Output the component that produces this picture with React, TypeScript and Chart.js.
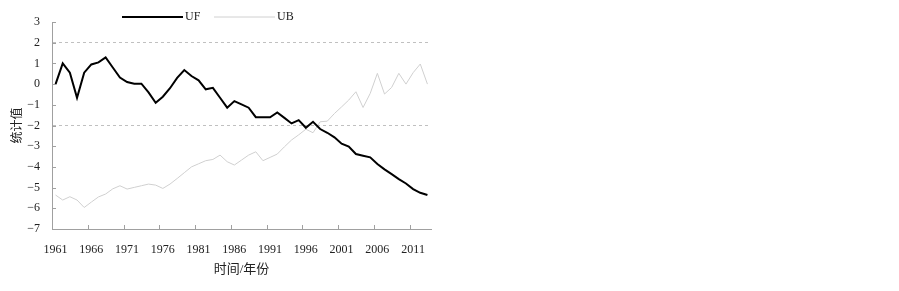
import React, { useEffect, useRef } from "react";
import { Chart, registerables } from "chart.js";

Chart.register(...registerables);

const years: string[] = [];
for (let y = 1961; y <= 2013; y++) years.push(String(y));

const ufValues = [
  0.0, 1.0, 0.55, -0.66, 0.55, 0.95, 1.05, 1.29, 0.8, 0.32,
  0.1, 0.02, 0.02, -0.4, -0.9, -0.61, -0.2, 0.3, 0.68, 0.39,
  0.18, -0.25, -0.18, -0.66, -1.14, -0.82, -0.98, -1.14, -1.6, -1.6,
  -1.6, -1.37, -1.63, -1.9, -1.74, -2.11, -1.82, -2.17, -2.35, -2.57,
  -2.88, -3.02, -3.38, -3.46, -3.54, -3.86, -4.12, -4.35, -4.59, -4.8,
  -5.07, -5.25, -5.36,
];

const ubValues = [
  -5.36, -5.6, -5.44, -5.6, -5.96, -5.7, -5.45, -5.31, -5.06, -4.91,
  -5.07, -4.99, -4.91, -4.83, -4.88, -5.04, -4.83, -4.56, -4.28, -4.0,
  -3.85, -3.7, -3.64, -3.43, -3.75, -3.91, -3.67, -3.43, -3.27, -3.7,
  -3.54, -3.38, -3.03, -2.7, -2.45, -2.18, -2.35, -1.82, -1.79, -1.42,
  -1.1, -0.77, -0.37, -1.13, -0.45, 0.52, -0.48, -0.16, 0.52, 0.0,
  0.55, 0.97, 0.0,
];

const seriesNames = ["UF", "UB"];
const seriesColors = ["#000000", "#d0d0d0"];
const seriesWidths = [2, 1];
const criticalValues = [2, -2];
const yTitle = "统计值";
const xTitle = "时间/年份";

const FONT = "'Liberation Serif', 'Noto Sans CJK SC', serif";
const TEXT = "#222222";
const AXIS = "#a0a0a0";

const decorPlugin = {
  id: "decor",
  afterDraw(chart: any) {
    const ctx = chart.ctx;
    const ca = chart.chartArea;
    const xs = chart.scales.x;
    const ys = chart.scales.y;
    ctx.save();
    ctx.strokeStyle = AXIS;
    ctx.lineWidth = 1;
    ctx.beginPath();
    ys.ticks.forEach((t: any) => {
      const py = Math.round(ys.getPixelForValue(t.value)) + 0.5;
      ctx.moveTo(ca.left, py);
      ctx.lineTo(ca.left + 4, py);
    });
    for (let i = 0; i < years.length; i += 5) {
      const px = Math.round(xs.getPixelForValue(i - 0.5)) + 0.5;
      ctx.moveTo(px, ca.bottom);
      ctx.lineTo(px, ca.bottom - 4);
    }
    ctx.stroke();
    // legend
    ctx.font = "12px " + FONT;
    ctx.textBaseline = "middle";
    ctx.textAlign = "left";
    chart.data.datasets.forEach((ds: any, i: number) => {
      const x0 = 122 + i * 92;
      const y0 = 17;
      ctx.strokeStyle = ds.borderColor;
      ctx.lineWidth = ds.borderWidth;
      ctx.beginPath();
      ctx.moveTo(x0, y0);
      ctx.lineTo(x0 + 61, y0);
      ctx.stroke();
      ctx.fillStyle = TEXT;
      ctx.fillText(ds.label, x0 + 63, y0);
    });
    ctx.restore();
  },
};

export default function App() {
  const ref = useRef<HTMLCanvasElement | null>(null);
  useEffect(() => {
    document.body.style.margin = "0";
    const canvas = ref.current!;
    const chart = new Chart(canvas, {
      type: "line",
      data: {
        labels: years,
        datasets: [
          {
            label: seriesNames[0],
            data: ufValues,
            borderColor: seriesColors[0],
            backgroundColor: seriesColors[0],
            borderWidth: seriesWidths[0],
            pointRadius: 0,
            tension: 0,
            order: 1,
          },
          {
            label: seriesNames[1],
            data: ubValues,
            borderColor: seriesColors[1],
            backgroundColor: seriesColors[1],
            borderWidth: seriesWidths[1],
            pointRadius: 0,
            tension: 0,
            order: 2,
          },
        ],
      },
      options: {
        responsive: false,
        animation: false,
        layout: { padding: { left: 2, right: 468, top: 22, bottom: 0 } },
        plugins: {
          legend: { display: false },
          tooltip: { enabled: false },
        },
        scales: {
          x: {
            type: "category",
            offset: true,
            grid: { display: false, drawTicks: false },
            border: { display: true, color: AXIS, width: 1 },
            ticks: {
              autoSkip: false,
              maxRotation: 0,
              minRotation: 0,
              padding: 14,
              color: TEXT,
              font: { family: FONT, size: 12 },
              callback: (_v: any, i: number) => (i % 5 === 0 ? years[i] : ""),
            },
            title: {
              display: true,
              text: xTitle,
              color: TEXT,
              font: { family: FONT, size: 13 },
              padding: { top: 4, bottom: 14 },
            },
            afterFit: (s: any) => {
              s.height = 62;
            },
          },
          y: {
            min: -7,
            max: 3,
            ticks: {
              stepSize: 1,
              padding: 12,
              color: TEXT,
              font: { family: FONT, size: 12 },
              callback: (v: any) => (v < 0 ? "\u2212" + Math.abs(v) : String(v)),
            },
            grid: {
              drawTicks: false,
              drawOnChartArea: true,
              lineWidth: 1,
              color: (c: any) =>
                c.tick && criticalValues.includes(c.tick.value) ? "#c0c0c0" : "rgba(0,0,0,0)",
            },
            border: { display: true, color: AXIS, width: 1, dash: [3, 3] },
            title: {
              display: true,
              text: yTitle,
              color: TEXT,
              font: { family: FONT, size: 12 },
              padding: { top: 9, bottom: 2 },
            },
            afterFit: (s: any) => {
              s.width = 50;
            },
          },
        },
      },
      plugins: [decorPlugin],
    });
    return () => chart.destroy();
  }, []);
  return (
    <div style={{ position: "absolute", left: 0, top: 0, width: 899, height: 291 }}>
      <canvas ref={ref} width={899} height={291} style={{ display: "block" }} />
    </div>
  );
}
